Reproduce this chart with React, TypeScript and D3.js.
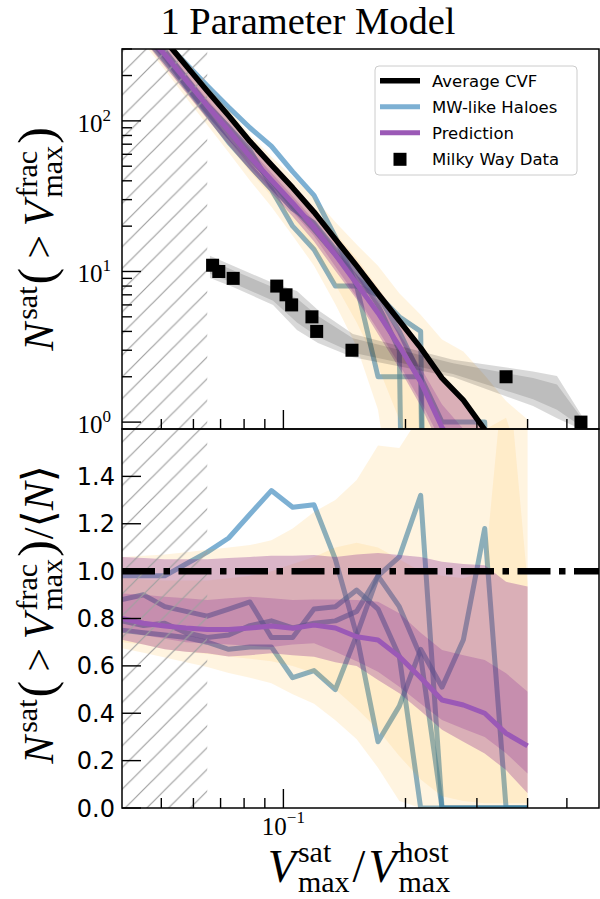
import React from "react";
import * as d3 from "d3";

// ---------- data ----------
const xGrid = [0.04, 0.0452, 0.051, 0.0575, 0.0649, 0.0733, 0.0827, 0.0934, 0.1054, 0.119, 0.1343, 0.1516, 0.1711, 0.1931, 0.218, 0.2461, 0.2778, 0.3136, 0.354, 0.4];

// top panel: cumulative counts
const avgCVF = [700, 500, 344, 233, 158, 108, 73, 51.1, 36, 24.8, 16.4, 10.9, 7.12, 4.71, 3.11, 1.96, 1.4, 0.89, 0.55, 0.4];
const predTop = [565, 400, 275, 186, 126, 86, 58, 40.5, 28.5, 19.6, 12.9, 8.3, 5.3, 3.2, 1.85, 0.92, 0.6, 0.36, 0.17, 0.1];
const mwA = [686, 490, 337, 240, 171, 123, 90, 68, 46, 32, 17, 8, 2, 2, 2, 1, 1, 1, 0, 0];
const mwB = [616, 450, 292, 193, 128, 91, 64, 37, 26, 21, 14, 10, 6, 3, 0, 0, 0, 0, 0, 0];
const mwC = [553, 385, 268, 172, 114, 79, 56, 40, 27, 19, 13, 9, 7, 5, 4, 0, 0, 0, 0, 0];
const mwD = [525, 370, 251, 168, 111, 72, 50, 35, 20, 14, 8, 8, 7, 4, 2, 0, 0, 0, 0, 0];

const orangeOuterTopUp = [742, 533, 368, 252, 172, 119, 81, 57.7, 42.5, 31, 21.3, 15.1, 10.9, 7.16, 5.16, 3.53, 2.94, 2.05, 1.38, 1.04];
const orangeOuterTopLo = [472, 328, 218, 143, 94, 61.6, 40.2, 26.9, 17.3, 10.9, 6.07, 3.16, 1.21, 0.14, 0, 0, 0, 0, 0, 0];
const orangeInnerTopUp = [679, 482, 330, 224, 152, 105, 71.5, 51.1, 37.1, 26.3, 18, 12.2, 7.83, 4.95, 3.11, 1.92, 1.36, 0.89, 1.07, 0.38];
const orangeInnerTopLo = [490, 345, 230, 154, 103, 69.1, 46, 31.7, 21.6, 14.1, 8.2, 4.58, 2.35, 1.04, 0.37, 0.1, 0.042, 0.018, 0.011, 0.008];
const purpleOuterTopUp = [742, 528, 361, 245, 166, 114, 77.4, 54.4, 38.3, 26.5, 17.4, 11.7, 7.66, 5.03, 3.3, 2.04, 1.44, 0.91, 0.53, 0.37];
const purpleOuterTopLo = [497, 345, 230, 154, 103, 69.1, 47.1, 33.4, 23.2, 15.8, 10.1, 6.54, 3.84, 2.28, 1.28, 0.65, 0.39, 0.2, 0.088, 0.025];
const purpleInnerTopUp = [634, 450, 307, 206, 139, 95.6, 65.1, 45.2, 31.6, 21.8, 14.4, 9.57, 6.2, 3.87, 2.3, 1.31, 0.9, 0.56, 0.31, 0.2];
const purpleInnerTopLo = [522, 365, 246, 163, 110, 74.5, 50, 34.7, 24.8, 17.2, 10.8, 6.76, 4.09, 2.41, 1.37, 0.73, 0.47, 0.27, 0.13, 0.058];

// Milky Way data
const mwDataX = [0.0669, 0.0693, 0.0752, 0.0963, 0.1015, 0.1048, 0.1176, 0.1208, 0.1476, 0.354, 0.5416];
const mwDataN = [11, 10, 9, 8, 7, 6, 5, 4, 3, 2, 1];
const greyX = [0.0659, 0.0751, 0.0943, 0.108, 0.1217, 0.1484, 0.262, 0.4126, 0.4727, 0.5605];
const greyOuterUp = [12.7, 10.9, 8.39, 7.42, 5.55, 3.85, 2.59, 2.17, 2.02, 0.97];
const greyOuterLo = [9.05, 7.89, 5.99, 4.09, 3.35, 2.7, 1.99, 1.28, 1.06, 0.86];
const greyInnerUp = [11.9, 10.2, 7.86, 6.62, 5.06, 3.6, 2.46, 1.96, 1.78, 0.95];
const greyInnerLo = [9.66, 8.4, 6.39, 4.58, 3.67, 2.89, 2.09, 1.42, 1.21, 0.88];

// bottom panel: ratios
const predRatio = [0.8, 0.78, 0.768, 0.76, 0.754, 0.754, 0.76, 0.768, 0.759, 0.772, 0.76, 0.723, 0.709, 0.639, 0.55, 0.456, 0.435, 0.4, 0.315, 0.262];
const mwARatio = [0.98, 0.98, 0.98, 1.03, 1.08, 1.14, 1.24, 1.34, 1.27, 1.28, 1.05, 0.73, 0.28, 0.43, 0.67, 0.51, 0.71, 1.18, 0, 0];
const mwBRatio = [0.88, 0.9, 0.85, 0.83, 0.81, 0.84, 0.87, 0.72, 0.72, 0.84, 0.85, 0.92, 0.84, 0.64, 0, 0, 0, 0, 0, 0];
const mwCRatio = [0.79, 0.77, 0.78, 0.74, 0.72, 0.73, 0.77, 0.79, 0.76, 0.78, 0.79, 0.83, 0.98, 1.06, 1.32, 0, 0, 0, 0, 0];
const mwDRatio = [0.75, 0.74, 0.73, 0.72, 0.7, 0.67, 0.68, 0.68, 0.55, 0.58, 0.5, 0.73, 0.98, 0.85, 0.64, 0, 0, 0, 0, 0];

const orangeOuterRatioUp = [1.06, 1.065, 1.07, 1.08, 1.09, 1.1, 1.11, 1.13, 1.18, 1.25, 1.3, 1.385, 1.53, 1.52, 1.66, 1.8, 2.1, 2.3, 2.5, 2.6];
const orangeOuterRatioLo = [0.674, 0.655, 0.635, 0.615, 0.595, 0.57, 0.55, 0.527, 0.48, 0.44, 0.37, 0.29, 0.17, 0.03, 0, 0, 0, 0, 0, 0];
const orangeInnerRatioUp = [0.97, 0.965, 0.96, 0.96, 0.96, 0.97, 0.98, 1.0, 1.03, 1.06, 1.1, 1.12, 1.1, 1.05, 1.0, 0.98, 0.97, 1.0, 1.95, 0.95];
const orangeInnerRatioLo = [0.7, 0.69, 0.67, 0.66, 0.65, 0.64, 0.63, 0.62, 0.6, 0.57, 0.5, 0.42, 0.33, 0.22, 0.12, 0.05, 0.03, 0.02, 0.02, 0.02];
const purpleOuterRatioUp = [1.06, 1.055, 1.05, 1.05, 1.05, 1.055, 1.06, 1.065, 1.065, 1.068, 1.06, 1.07, 1.076, 1.068, 1.06, 1.04, 1.03, 1.025, 0.955, 0.935];
const purpleOuterRatioLo = [0.71, 0.69, 0.67, 0.66, 0.653, 0.64, 0.645, 0.653, 0.645, 0.639, 0.615, 0.6, 0.54, 0.484, 0.41, 0.33, 0.28, 0.23, 0.16, 0.062];
const purpleInnerRatioUp = [0.906, 0.9, 0.892, 0.885, 0.878, 0.885, 0.892, 0.885, 0.878, 0.88, 0.88, 0.878, 0.871, 0.822, 0.74, 0.667, 0.645, 0.625, 0.569, 0.491];
const purpleInnerRatioLo = [0.745, 0.73, 0.715, 0.7, 0.695, 0.69, 0.685, 0.68, 0.69, 0.695, 0.66, 0.62, 0.575, 0.512, 0.44, 0.371, 0.335, 0.3, 0.231, 0.146];

// excluded (hatched) range and reference line
const hatchRange = [0.04, 0.0649];
const refLine = 1.0;

// ticks & labels
const xMajorTicks = [0.1];
const xMajorExps = ["\u22121"];
const xMinorTicks = [0.05, 0.06, 0.07, 0.08, 0.09, 0.2, 0.3, 0.4, 0.5];
const topMajorTicks = [1, 10, 100];
const topMajorExps = ["0", "1", "2"];
const topMinorTicks = [2, 3, 4, 5, 6, 7, 8, 9, 20, 30, 40, 50, 60, 70, 80, 90, 200, 300];
const botTicks = [0, 0.2, 0.4, 0.6, 0.8, 1.0, 1.2, 1.4];
const botTickLabels = ["0.0", "0.2", "0.4", "0.6", "0.8", "1.0", "1.2", "1.4"];
const legendLabels = ["Average CVF", "MW-like Haloes", "Prediction", "Milky Way Data"];
const titleText = "1 Parameter Model";

// ---------- layout ----------
const W = 600, H = 899;
const L = 122, R = 599;
const T0 = 49, T1 = 429, B0 = 429, B1 = 808;

const MW_COLOR = "#1f77b4";
const MW_OP = 0.58;
const PRED_COLOR = "#9b59b6";
const ORANGE = "#ffa500";
const PURPLE = "#780c8a";
const SERIF = "'Liberation Serif', 'Times New Roman', serif";
const SANS = "'DejaVu Sans', sans-serif";

export default function App() {
  const x = d3.scaleLog().domain([0.04, 0.6]).range([L, R]);
  const yT = d3.scaleLog().domain([0.9, 300]).range([T1, T0]);
  const yB = d3.scaleLinear().domain([0, 1.6]).range([B1, B0]);
  const pos = (v: number) => Math.max(v, 1e-9);

  const lineT = (vals: number[]) =>
    d3.line<number>().x((_, i) => x(xGrid[i])).y((v) => yT(pos(v)))(vals) || "";
  const lineB = (vals: number[]) =>
    d3.line<number>().x((_, i) => x(xGrid[i])).y((v) => yB(v))(vals) || "";
  const areaT = (lo: number[], up: number[], xs: number[] = xGrid) =>
    d3
      .area<number>()
      .x((_, i) => x(xs[i]))
      .y0((_, i) => yT(pos(lo[i])))
      .y1((_, i) => yT(pos(up[i])))(up) || "";
  const areaB = (lo: number[], up: number[]) =>
    d3
      .area<number>()
      .x((_, i) => x(xGrid[i]))
      .y0((_, i) => yB(lo[i]))
      .y1((_, i) => yB(up[i]))(up) || "";

  const hx0 = x(hatchRange[0]);
  const hx1 = x(hatchRange[1]);

  const mwTop = [mwA, mwB, mwC, mwD];
  const mwRat = [mwARatio, mwBRatio, mwCRatio, mwDRatio];

  const xTicks = (yBase: number) => (
    <g stroke="#000" strokeWidth={1.4}>
      {xMajorTicks.map((t, i) => (
        <line key={"M" + i} x1={x(t)} x2={x(t)} y1={yBase} y2={yBase - 19} />
      ))}
      {xMinorTicks.map((t, i) => (
        <line key={"m" + i} x1={x(t)} x2={x(t)} y1={yBase} y2={yBase - 10} />
      ))}
    </g>
  );

  const legendY = [80.7, 106.7, 132.7, 159.3];

  const yLabelCore = (
    <>
      <tspan fontStyle="italic">N</tspan>
      <tspan fontSize={30} dx={3} dy={-16}>sat</tspan>
      <tspan fontSize={50} dx={2} dy={16}>(</tspan>
      <tspan dx={9}>&gt;</tspan>
      <tspan dx={9} fontStyle="italic">V</tspan>
      <tspan fontSize={30} dx={3} dy={-16}>frac</tspan>
      <tspan fontSize={30} dx={-46.6} dy={25}>max</tspan>
      <tspan fontSize={50} dx={2} dy={-9}>)</tspan>
    </>
  );

  return (
    <svg
      width={W}
      height={H}
      style={{ position: "absolute", left: 0, top: 0, background: "#fff" }}
    >
      <defs>
        <clipPath id="clipTop">
          <rect x={L} y={T0} width={R - L} height={T1 - T0} />
        </clipPath>
        <clipPath id="clipBot">
          <rect x={L} y={B0} width={R - L} height={B1 - B0} />
        </clipPath>
        <pattern id="hatch" patternUnits="userSpaceOnUse" width={21.7} height={21.7}>
          <path
            d="M0,21.7 L21.7,0 M-5,5 L5,-5 M16.7,26.7 L26.7,16.7"
            stroke="#a0a0a0"
            strokeWidth={1.2}
          />
        </pattern>
      </defs>
      <rect x={0} y={0} width={W} height={H} fill="#fff" />

      {/* title */}
      <text x={308} y={34} textAnchor="middle" fontFamily={SERIF} fontSize={38.5}>
        {titleText}
      </text>

      {/* ---------------- top panel ---------------- */}
      <g clipPath="url(#clipTop)">
        {mwTop.map((s, i) => (
          <path
            key={"mwt" + i}
            d={lineT(s)}
            fill="none"
            stroke={MW_COLOR}
            strokeOpacity={MW_OP}
            strokeWidth={5}
            strokeLinejoin="round"
          />
        ))}
        <path d={areaT(orangeOuterTopLo, orangeOuterTopUp)} fill={ORANGE} fillOpacity={0.12} />
        <path d={areaT(orangeInnerTopLo, orangeInnerTopUp)} fill={ORANGE} fillOpacity={0.1} />
        <path d={areaT(purpleOuterTopLo, purpleOuterTopUp)} fill={PURPLE} fillOpacity={0.27} />
        <path d={areaT(purpleInnerTopLo, purpleInnerTopUp)} fill={PURPLE} fillOpacity={0.2} />
        <path d={areaT(greyOuterLo, greyOuterUp, greyX)} fill="#000" fillOpacity={0.15} />
        <path d={areaT(greyInnerLo, greyInnerUp, greyX)} fill="#000" fillOpacity={0.13} />
        <rect x={hx0} y={T0} width={hx1 - hx0} height={T1 - T0} fill="url(#hatch)" />
        <path d={lineT(avgCVF)} fill="none" stroke="#000" strokeWidth={5.5} strokeLinejoin="round" />
        <path d={lineT(predTop)} fill="none" stroke={PRED_COLOR} strokeWidth={5} strokeLinejoin="round" />
        {mwDataX.map((xv, i) => (
          <rect key={"sq" + i} x={x(xv) - 6.5} y={yT(mwDataN[i]) - 6.5} width={13} height={13} fill="#000" />
        ))}
      </g>

      {/* top axes */}
      {xTicks(T1)}
      <g stroke="#000" strokeWidth={1.4}>
        {topMajorTicks.map((t, i) => (
          <line key={"tM" + i} x1={L} x2={L + 19} y1={yT(t)} y2={yT(t)} />
        ))}
        {topMinorTicks.map((t, i) => (
          <line key={"tm" + i} x1={L} x2={L + 10} y1={yT(t)} y2={yT(t)} />
        ))}
      </g>
      {topMajorTicks.map((t, i) => (
        <text key={"tl" + i} x={111} y={yT(t) + 10.7} textAnchor="end" fontFamily={SERIF} fontSize={25}>
          10
          <tspan fontSize={17} dy={-11}>
            {topMajorExps[i]}
          </tspan>
        </text>
      ))}

      {/* legend */}
      <g>
        <rect x={375} y={66} width={202} height={109} rx={4} fill="#fff" fillOpacity={0.8} stroke="#cccccc" strokeWidth={1} />
        <line x1={380} x2={420} y1={legendY[0]} y2={legendY[0]} stroke="#000" strokeWidth={5.5} />
        <line x1={380} x2={420} y1={legendY[1]} y2={legendY[1]} stroke={MW_COLOR} strokeOpacity={MW_OP} strokeWidth={5} />
        <line x1={380} x2={420} y1={legendY[2]} y2={legendY[2]} stroke={PRED_COLOR} strokeWidth={5} />
        <rect x={400 - 6.5} y={legendY[3] - 6.5} width={13} height={13} fill="#000" />
        {legendLabels.map((lab, i) => (
          <text key={"lg" + i} x={432} y={legendY[i] + 6} fontFamily={SANS} fontSize={16.5} fill="#000">
            {lab}
          </text>
        ))}
      </g>

      {/* ---------------- bottom panel ---------------- */}
      <g clipPath="url(#clipBot)">
        {mwRat.map((s, i) => (
          <path
            key={"mwb" + i}
            d={lineB(s)}
            fill="none"
            stroke={MW_COLOR}
            strokeOpacity={MW_OP}
            strokeWidth={5}
            strokeLinejoin="round"
          />
        ))}
        <path d={areaB(orangeOuterRatioLo, orangeOuterRatioUp)} fill={ORANGE} fillOpacity={0.12} />
        <path d={areaB(orangeInnerRatioLo, orangeInnerRatioUp)} fill={ORANGE} fillOpacity={0.1} />
        <path d={areaB(purpleOuterRatioLo, purpleOuterRatioUp)} fill={PURPLE} fillOpacity={0.27} />
        <path d={areaB(purpleInnerRatioLo, purpleInnerRatioUp)} fill={PURPLE} fillOpacity={0.2} />
        <rect x={hx0} y={B0} width={hx1 - hx0} height={B1 - B0} fill="url(#hatch)" />
        <line
          x1={L}
          x2={R}
          y1={yB(refLine)}
          y2={yB(refLine)}
          stroke="#000"
          strokeWidth={6.5}
          strokeDasharray="33,8.5,6.5,8.5"
        />
        <path d={lineB(predRatio)} fill="none" stroke={PRED_COLOR} strokeWidth={5} strokeLinejoin="round" />
      </g>

      {xTicks(B1)}
      <g stroke="#000" strokeWidth={1.4}>
        {botTicks.map((t, i) => (
          <line key={"bt" + i} x1={L} x2={L + 19} y1={yB(t)} y2={yB(t)} />
        ))}
      </g>
      {botTicks.map((t, i) => (
        <text key={"bl" + i} x={115} y={yB(t) + 8.5} textAnchor="end" fontFamily={SANS} fontSize={24}>
          {botTickLabels[i]}
        </text>
      ))}
      {xMajorTicks.map((t, i) => (
        <text key={"xl" + i} x={x(t)} y={835} textAnchor="middle" fontFamily={SERIF} fontSize={25}>
          10
          <tspan fontSize={17} dy={-12}>
            {xMajorExps[i]}
          </tspan>
        </text>
      ))}

      {/* spines */}
      <rect x={L} y={T0} width={R - L} height={T1 - T0} fill="none" stroke="#000" strokeWidth={1.5} />
      <rect x={L} y={B0} width={R - L} height={B1 - B0} fill="none" stroke="#000" strokeWidth={1.5} />

      {/* axis labels */}
      <text x={359} y={882} textAnchor="middle" fontFamily={SERIF} fontSize={46}>
        <tspan fontStyle="italic">V</tspan>
        <tspan fontSize={30} dx={2} dy={-20}>sat</tspan>
        <tspan fontSize={30} dx={-33.3} dy={30}>max</tspan>
        <tspan dx={3} dy={-10}>/</tspan>
        <tspan dx={3} fontStyle="italic">V</tspan>
        <tspan fontSize={30} dx={2} dy={-20}>host</tspan>
        <tspan fontSize={30} dx={-50} dy={30}>max</tspan>
      </text>

      <text
        transform={`translate(53,${(T0 + T1) / 2}) rotate(-90)`}
        textAnchor="middle"
        fontFamily={SERIF}
        fontSize={42}
      >
        {yLabelCore}
      </text>

      <text
        transform={`translate(53,${(B0 + B1) / 2 - 4}) rotate(-90)`}
        textAnchor="middle"
        fontFamily={SERIF}
        fontSize={42}
      >
        {yLabelCore}
        <tspan dx={1}>/</tspan>
        <tspan fontFamily="'DejaVu Serif', serif" fontSize={44}>{"\u27E8"}</tspan>
        <tspan fontStyle="italic">N</tspan>
        <tspan fontFamily="'DejaVu Serif', serif" fontSize={44}>{"\u27E9"}</tspan>
      </text>
    </svg>
  );
}
